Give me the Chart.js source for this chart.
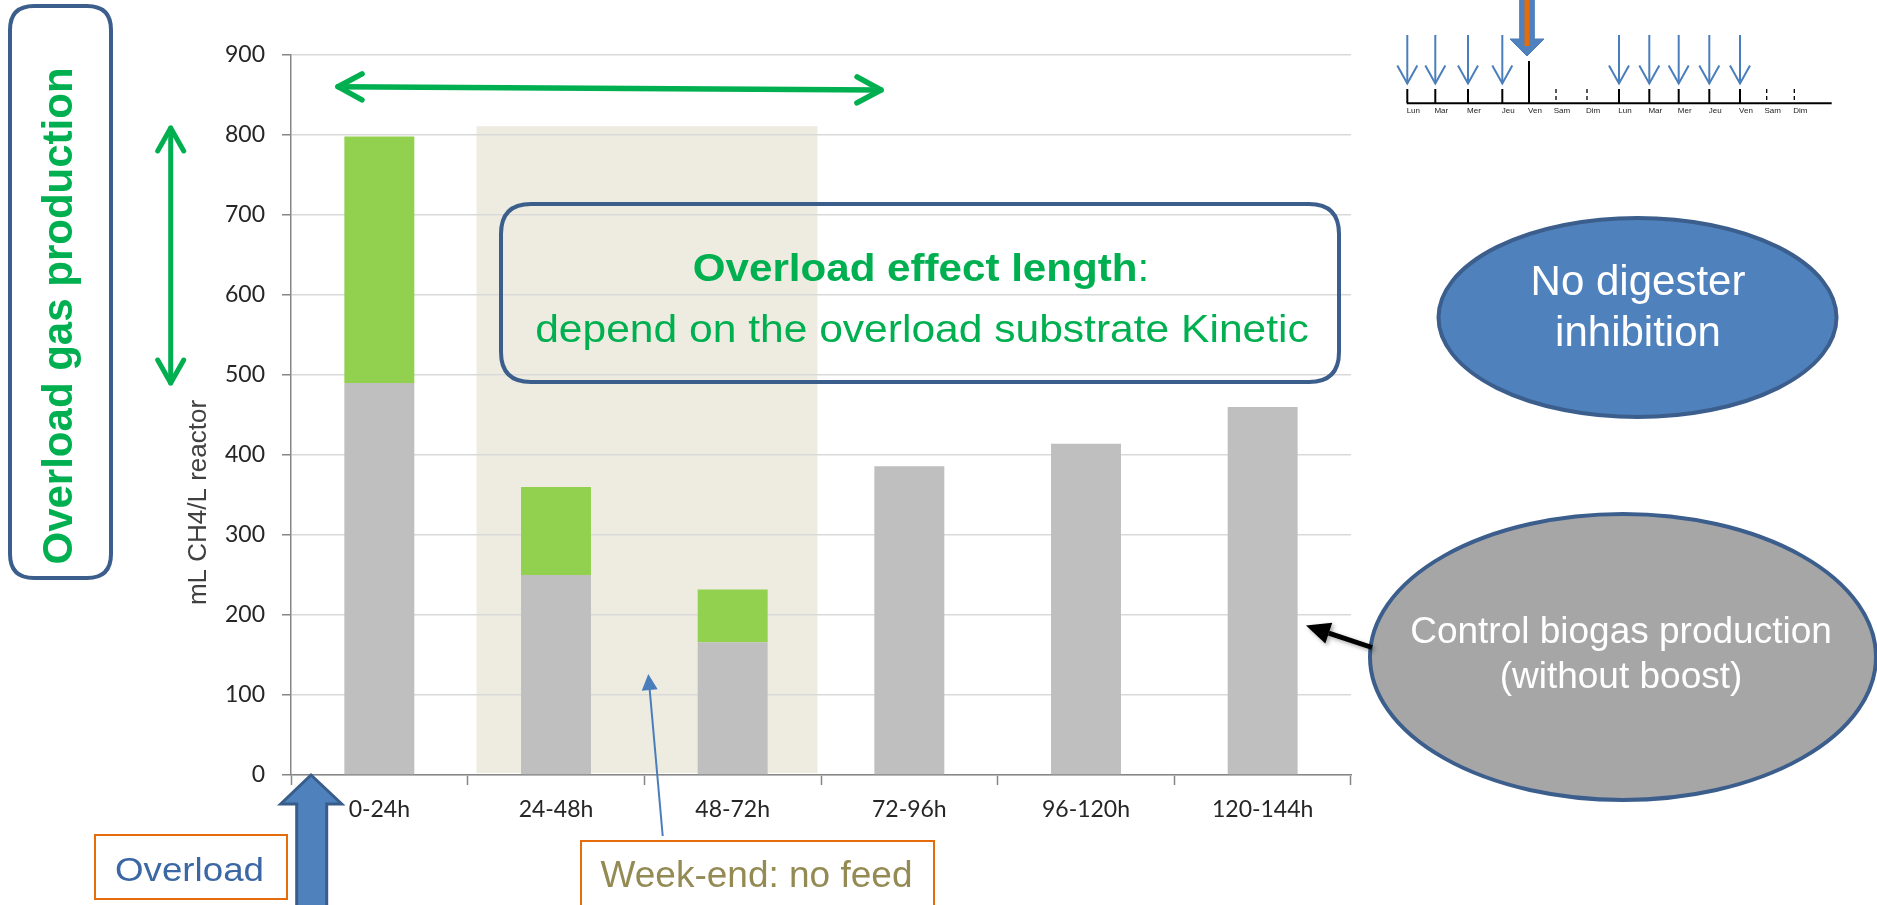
<!DOCTYPE html>
<html>
<head>
<meta charset="utf-8">
<script src="https://cdn.jsdelivr.net/npm/chart.js@4.4.0/dist/chart.umd.min.js"></script>
<style>
  html, body { margin: 0; padding: 0; background: #ffffff; overflow: hidden; }
  #wrap { position: relative; width: 1877px; height: 905px; }
</style>
</head>
<body>
<div id="wrap"><canvas id="c" width="1877" height="905"></canvas></div>
<script>
// Daily methane production after the overload (mL CH4 / L reactor)
const categories = ['0-24h', '24-48h', '48-72h', '72-96h', '96-120h', '120-144h'];
const controlProduction = [490, 250, 166, 386, 414, 460];   // control biogas (without boost)
const overloadExtra = [308, 110, 66, 0, 0, 0];              // extra gas from the overload
const yTickValues = [0, 100, 200, 300, 400, 500, 600, 700, 800, 900];
const weekDays = ['Lun', 'Mar', 'Mer', 'Jeu', 'Ven', 'Sam', 'Dim', 'Lun', 'Mar', 'Mer', 'Jeu', 'Ven', 'Sam', 'Dim'];
const feedDays = [0, 1, 2, 3, 7, 8, 9, 10, 11];
const overloadDay = 4;
// week-end without feed, in category units, and its height in mL
const weekendFrom = 0.55, weekendTo = 2.48, weekendTop = 811;

const GREEN = '#00B050';
const BLUE_EDGE = '#3B5E8C';
const BLUE_FILL = '#4F81BD';
const ORANGE = '#E46C0A';
const SANS = '"Liberation Sans", Arial, sans-serif';

function roundRect(ctx, x, y, w, h, r) {
  ctx.beginPath();
  ctx.moveTo(x + r, y);
  ctx.lineTo(x + w - r, y);
  ctx.quadraticCurveTo(x + w, y, x + w, y + r);
  ctx.lineTo(x + w, y + h - r);
  ctx.quadraticCurveTo(x + w, y + h, x + w - r, y + h);
  ctx.lineTo(x + r, y + h);
  ctx.quadraticCurveTo(x, y + h, x, y + h - r);
  ctx.lineTo(x, y + r);
  ctx.quadraticCurveTo(x, y, x + r, y);
  ctx.closePath();
}

// text centred on cx, optionally stretched horizontally
function stretchedText(ctx, text, cx, baseline, font, color, sx) {
  ctx.save();
  ctx.font = font;
  ctx.fillStyle = color;
  ctx.textAlign = 'center';
  ctx.textBaseline = 'alphabetic';
  ctx.translate(cx, baseline);
  ctx.scale(sx || 1, 1);
  ctx.fillText(text, 0, 0);
  ctx.restore();
}

function openArrowHead(ctx, tx, ty, ang, len, half) {
  const bx = tx - Math.cos(ang) * len, by = ty - Math.sin(ang) * len;
  const px = -Math.sin(ang) * half, py = Math.cos(ang) * half;
  ctx.beginPath();
  ctx.moveTo(bx + px, by + py);
  ctx.lineTo(tx, ty);
  ctx.lineTo(bx - px, by - py);
  ctx.stroke();
}

function doubleArrow(ctx, x1, y1, x2, y2, lw, len, half, color) {
  ctx.save();
  ctx.strokeStyle = color;
  ctx.lineWidth = lw;
  ctx.lineCap = 'round';
  ctx.lineJoin = 'round';
  ctx.beginPath();
  ctx.moveTo(x1, y1);
  ctx.lineTo(x2, y2);
  ctx.stroke();
  const a = Math.atan2(y2 - y1, x2 - x1);
  openArrowHead(ctx, x2, y2, a, len, half);
  openArrowHead(ctx, x1, y1, a + Math.PI, len, half);
  ctx.restore();
}

function solidArrow(ctx, x1, y1, tx, ty, lw, len, half, color) {
  const a = Math.atan2(ty - y1, tx - x1);
  const bx = tx - Math.cos(a) * len, by = ty - Math.sin(a) * len;
  const px = -Math.sin(a) * half, py = Math.cos(a) * half;
  ctx.strokeStyle = color;
  ctx.fillStyle = color;
  ctx.lineWidth = lw;
  ctx.beginPath();
  ctx.moveTo(x1, y1);
  ctx.lineTo(bx, by);
  ctx.stroke();
  ctx.beginPath();
  ctx.moveTo(tx, ty);
  ctx.lineTo(bx + px, by + py);
  ctx.lineTo(bx - px, by - py);
  ctx.closePath();
  ctx.fill();
}

function ellipse(ctx, cx, cy, rx, ry, fill, stroke, lw) {
  ctx.beginPath();
  ctx.ellipse(cx, cy, rx, ry, 0, 0, Math.PI * 2);
  ctx.fillStyle = fill;
  ctx.fill();
  ctx.strokeStyle = stroke;
  ctx.lineWidth = lw;
  ctx.stroke();
}

// tan band behind the grid for the week-end
const weekendBand = {
  id: 'weekendBand',
  beforeDraw(chart) {
    const { ctx, scales: { x, y } } = chart;
    const step = x.getPixelForValue(1) - x.getPixelForValue(0);
    const left = x.getPixelForValue(0) + weekendFrom * step;
    const right = x.getPixelForValue(0) + weekendTo * step;
    const top = y.getPixelForValue(weekendTop);
    const bottom = y.getPixelForValue(0) - 2;
    ctx.save();
    ctx.fillStyle = '#EEECE1';
    ctx.fillRect(left, top, right - left, bottom - top);
    ctx.restore();
  }
};

// explanatory shapes and notes around the bars
const notes = {
  id: 'notes',
  afterDraw(chart) {
    const ctx = chart.ctx;
    const area = chart.chartArea;
    ctx.save();

    // axis title
    ctx.save();
    ctx.translate(206, area.top + (area.bottom - area.top) * 0.6215);
    ctx.rotate(-Math.PI / 2);
    ctx.font = '26px ' + SANS;
    ctx.fillStyle = '#404040';
    ctx.textAlign = 'center';
    ctx.textBaseline = 'alphabetic';
    ctx.fillText('mL CH4/L reactor', 0, 0);
    ctx.restore();

    // left framed label
    roundRect(ctx, 10, 6, 101, 572, 24);
    ctx.strokeStyle = BLUE_EDGE;
    ctx.lineWidth = 4;
    ctx.stroke();
    ctx.save();
    ctx.translate(72, 316);
    ctx.rotate(-Math.PI / 2);
    ctx.font = 'bold 42px ' + SANS;
    ctx.fillStyle = GREEN;
    ctx.textAlign = 'center';
    ctx.textBaseline = 'alphabetic';
    ctx.fillText('Overload gas production', 0, 0);
    ctx.restore();

    // green double arrows
    doubleArrow(ctx, 170.7, 128, 170.7, 383, 5, 23, 13, GREEN);
    doubleArrow(ctx, 338, 86.7, 881, 90, 5.5, 24, 13, GREEN);

    // overload effect box
    roundRect(ctx, 501, 204, 838, 178, 30);
    ctx.strokeStyle = BLUE_EDGE;
    ctx.lineWidth = 4;
    ctx.stroke();
    ctx.save();
    const boldF = 'bold 39px ' + SANS, regF = '39px ' + SANS;
    const sx1 = 1.08;
    ctx.font = boldF;
    const wBold = ctx.measureText('Overload effect length').width;
    ctx.font = regF;
    const wColon = ctx.measureText(':').width;
    const total = (wBold + wColon) * sx1;
    ctx.translate(921 - total / 2, 280.7);
    ctx.scale(sx1, 1);
    ctx.fillStyle = GREEN;
    ctx.textAlign = 'left';
    ctx.textBaseline = 'alphabetic';
    ctx.font = boldF;
    ctx.fillText('Overload effect length', 0, 0);
    ctx.font = regF;
    ctx.fillText(':', wBold, 0);
    ctx.restore();
    stretchedText(ctx, 'depend on the overload substrate Kinetic', 922, 341.7, '38px ' + SANS, GREEN, 1.12);

    // no inhibition bubble
    ellipse(ctx, 1637.5, 317.5, 199, 99.5, BLUE_FILL, BLUE_EDGE, 4);
    stretchedText(ctx, 'No digester', 1638, 295, '42px ' + SANS, '#FFFFFF', 1);
    stretchedText(ctx, 'inhibition', 1638, 346, '42px ' + SANS, '#FFFFFF', 1);

    // control bubble and its pointer
    ellipse(ctx, 1623, 657, 253, 143, '#A6A6A6', BLUE_EDGE, 4);
    stretchedText(ctx, 'Control biogas production', 1621, 643, '37px ' + SANS, '#FFFFFF', 1);
    stretchedText(ctx, '(without boost)', 1621, 688, '37px ' + SANS, '#FFFFFF', 1);
    ctx.save();
    ctx.shadowColor = 'rgba(0,0,0,0.35)';
    ctx.shadowBlur = 4;
    ctx.shadowOffsetX = 2;
    ctx.shadowOffsetY = 2;
    solidArrow(ctx, 1372, 647.5, 1306, 625.5, 5, 24, 11, '#000000');
    ctx.restore();

    // week-end pointer and box
    solidArrow(ctx, 662.7, 836, 648.3, 674, 2, 16, 8, '#4A7EBB');
    ctx.fillStyle = '#FFFFFF';
    ctx.fillRect(581, 841, 353, 80);
    ctx.strokeStyle = ORANGE;
    ctx.lineWidth = 2;
    ctx.strokeRect(581, 841, 353, 80);
    stretchedText(ctx, 'Week-end: no feed', 756.5, 886.7, '37px ' + SANS, '#948A54', 1);

    // overload box and upward block arrow
    ctx.fillStyle = '#FFFFFF';
    ctx.fillRect(95, 835, 192, 64);
    ctx.strokeStyle = ORANGE;
    ctx.lineWidth = 2;
    ctx.strokeRect(95, 835, 192, 64);
    stretchedText(ctx, 'Overload', 189.5, 880.7, '34px ' + SANS, '#3B67A4', 1.08);

    ctx.beginPath();
    ctx.moveTo(311, 775);
    ctx.lineTo(341.7, 804);
    ctx.lineTo(326.7, 804);
    ctx.lineTo(326.7, 915);
    ctx.lineTo(296.7, 915);
    ctx.lineTo(296.7, 804);
    ctx.lineTo(280.7, 804);
    ctx.closePath();
    ctx.fillStyle = BLUE_FILL;
    ctx.fill();
    ctx.strokeStyle = '#385D8A';
    ctx.lineWidth = 3;
    ctx.lineJoin = 'miter';
    ctx.stroke();

    // weekly feeding timeline
    const dayX = [1407.3, 1435.3, 1468, 1502.3, 1529, 1556, 1587, 1619, 1649.3, 1678.7, 1709.3, 1740, 1766.7, 1794.3];
    ctx.strokeStyle = '#000000';
    ctx.lineWidth = 2;
    ctx.beginPath();
    ctx.moveTo(1406.7, 103.3);
    ctx.lineTo(1831.7, 103.3);
    ctx.stroke();
    weekDays.forEach((d, i) => {
      const weekend = (d === 'Sam' || d === 'Dim');
      ctx.save();
      ctx.strokeStyle = '#000000';
      ctx.lineWidth = weekend ? 1.3 : 2;
      if (weekend) ctx.setLineDash([4, 3]);
      ctx.beginPath();
      ctx.moveTo(dayX[i], i === overloadDay ? 61 : 89);
      ctx.lineTo(dayX[i], 103);
      ctx.stroke();
      ctx.restore();
      ctx.font = '8px "Liberation Sans Narrow", ' + SANS;
      ctx.fillStyle = '#222222';
      ctx.textAlign = 'center';
      ctx.textBaseline = 'middle';
      ctx.fillText(d, dayX[i] + 6, 111);
    });
    ctx.save();
    ctx.strokeStyle = '#4A7EBB';
    ctx.lineWidth = 2;
    feedDays.forEach(i => {
      const x = dayX[i];
      ctx.beginPath();
      ctx.moveTo(x, 35);
      ctx.lineTo(x, 83.5);
      ctx.stroke();
      openArrowHead(ctx, x, 83.5, Math.PI / 2, 18, 10);
    });
    ctx.restore();
    // overload feeding: block arrow with an orange core
    const ox = dayX[overloadDay] - 2;
    ctx.beginPath();
    ctx.moveTo(ox, 56);
    ctx.lineTo(ox - 17, 39);
    ctx.lineTo(ox - 7.3, 39);
    ctx.lineTo(ox - 7.3, -5);
    ctx.lineTo(ox + 7.3, -5);
    ctx.lineTo(ox + 7.3, 39);
    ctx.lineTo(ox + 17, 39);
    ctx.closePath();
    ctx.fillStyle = BLUE_FILL;
    ctx.fill();
    ctx.strokeStyle = '#4A7EBB';
    ctx.lineWidth = 1;
    ctx.stroke();
    ctx.fillStyle = ORANGE;
    ctx.fillRect(ox - 2.5, -5, 5, 51);

    ctx.restore();
  }
};

const axisGray = '#868686';

new Chart(document.getElementById('c'), {
  type: 'bar',
  data: {
    labels: categories,
    datasets: [
      { label: 'Control', data: controlProduction, backgroundColor: '#BFBFBF', borderWidth: 0 },
      { label: 'Overload', data: overloadExtra, backgroundColor: '#92D050', borderWidth: 0 }
    ]
  },
  options: {
    responsive: false,
    animation: false,
    devicePixelRatio: 1,
    events: [],
    layout: { padding: { left: 0, right: 526, top: 55, bottom: 0 } },
    datasets: { bar: { barPercentage: 0.396, categoryPercentage: 1 } },
    plugins: { legend: { display: false }, tooltip: { enabled: false } },
    scales: {
      x: {
        stacked: true,
        afterFit(scale) { scale.height = 130; },
        grid: { display: true, drawOnChartArea: false, drawTicks: true, tickLength: 10, tickColor: axisGray, tickWidth: 1.5, offset: true },
        border: { color: axisGray, width: 1.5 },
        ticks: { font: { family: 'Lato', size: 23 }, color: '#262626', padding: 11, maxRotation: 0 }
      },
      y: {
        stacked: true,
        min: 0,
        max: 900,
        afterFit(scale) { scale.width = 291; },
        afterBuildTicks(scale) { scale.ticks = yTickValues.map(v => ({ value: v })); },
        grid: { color: '#D9D9D9', lineWidth: 1.5, drawTicks: true, tickLength: 9, tickColor: axisGray, tickWidth: 1.5 },
        border: { color: axisGray, width: 1.5 },
        ticks: { font: { family: 'Lato', size: 23 }, color: '#262626', padding: 17 }
      }
    }
  },
  plugins: [weekendBand, notes]
});
</script>
</body>
</html>
